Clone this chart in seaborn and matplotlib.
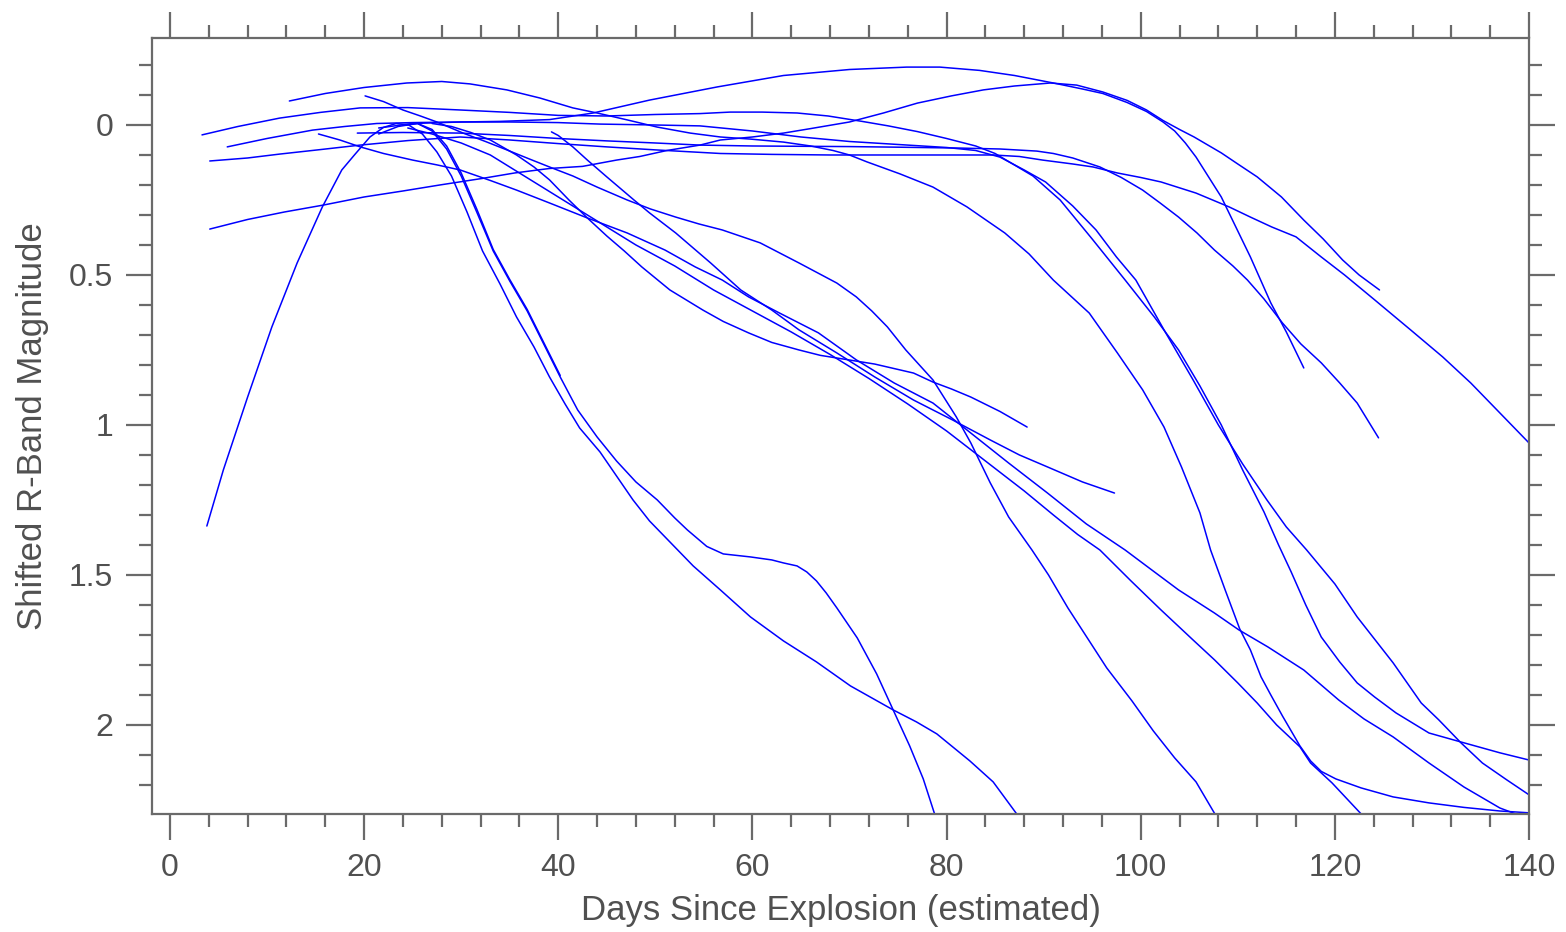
import numpy as np
import pandas as pd
import matplotlib
matplotlib.use("Agg")
import matplotlib.pyplot as plt
import seaborn as sns
from matplotlib.ticker import MultipleLocator, FuncFormatter

# ---------------- data (days since explosion, shifted R magnitude) ----------------
day_s = [3.8, 5.5, 8.0, 10.5, 13.1, 15.7, 17.7, 19.0, 20.6, 22.0, 23.3, 24.6, 26.0, 27.5, 29.0, 30.6,
         32.2, 34.0, 35.7, 37.5, 39.1, 40.7, 42.2, 44.3, 46.0, 47.7, 49.4, 51.5, 53.9, 56.7, 59.8,
         63.2, 66.6, 70.1, 74.5, 76.9, 79.0, 82.4, 84.8, 87.3]
mag_s = [1.337, 1.15, 0.907, 0.673, 0.46, 0.273, 0.15, 0.10, 0.04, 0.008, -0.005, 0.0, 0.03, 0.09, 0.17, 0.29,
         0.42, 0.53, 0.64, 0.74, 0.84, 0.93, 1.01, 1.09, 1.17, 1.25, 1.32, 1.39, 1.47, 1.55, 1.64,
         1.72, 1.79, 1.87, 1.95, 1.99, 2.03, 2.12, 2.19, 2.30]

day_p = [24.0, 25.5, 27.0, 28.5, 30.0, 31.6, 33.3, 35.0, 36.8, 38.5, 40.2, 42.0, 44.0, 46.0, 48.0, 50.2,
         52.0, 53.3, 55.3, 57.0, 59.8, 62.0, 63.2, 64.6, 65.6, 66.6, 67.6, 68.7, 70.8, 72.8, 74.5,
         76.2, 77.6, 78.8]
mag_p = [0.0, -0.005, 0.02, 0.08, 0.17, 0.29, 0.42, 0.52, 0.62, 0.73, 0.84, 0.95, 1.04, 1.12, 1.19, 1.25,
         1.31, 1.35, 1.405, 1.43, 1.44, 1.45, 1.46, 1.47, 1.49, 1.52, 1.56, 1.61, 1.71, 1.83, 1.95,
         2.07, 2.18, 2.30]

day_q = [21.5, 23.5, 25.5, 27.0, 28.5, 30.0, 31.6, 33.3, 35.0, 36.8, 38.5, 40.2]
mag_q = [0.03, 0.005, -0.005, 0.015, 0.07, 0.16, 0.28, 0.415, 0.515, 0.615, 0.725, 0.835]

day_b = [12.3, 16.0, 20.0, 24.4, 28.0, 30.9, 34.7, 38.1, 41.5, 44.0, 47.1, 50.2, 53.6, 56.7, 59.8, 63.2,
         66.0, 68.3, 70.0, 71.8, 75.2, 78.6, 82.1, 86.0, 88.5, 91.0, 94.7, 97.6, 100.2, 102.4, 104.2,
         106.1, 107.2, 108.7, 110.2, 111.3, 112.4, 113.4, 114.6, 116.4, 117.5, 118.6, 120.1, 122.7,
         126.0, 129.7, 133.3, 137.0, 140.0]
mag_b = [-0.08, -0.105, -0.125, -0.14, -0.145, -0.137, -0.117, -0.09, -0.057, -0.04, -0.017, 0.007, 0.027,
         0.04, 0.047, 0.057, 0.07, 0.085, 0.1, 0.123, 0.163, 0.207, 0.273, 0.36, 0.43, 0.517, 0.627, 0.76,
         0.883, 1.007, 1.14, 1.293, 1.417, 1.55, 1.68, 1.75, 1.84, 1.9, 1.97, 2.07, 2.12, 2.155, 2.18,
         2.21, 2.24, 2.26, 2.275, 2.287, 2.293]

day_c = [3.3, 7.0, 11.3, 15.5, 19.6, 24.5, 29.9, 35.0, 40.0, 45.0, 50.0, 54.6, 57.7, 61.0, 64.6, 67.8,
         71.3, 74.0, 77.0, 80.0, 83.0, 85.0, 88.9, 91.7, 95.0, 98.4, 101.4, 103.9, 106.1, 108.3, 110.5,
         112.7, 114.2, 115.5, 117.0, 118.6, 120.5, 122.3, 124.1, 126.3, 129.7, 133.0, 137.0, 140.0]
mag_c = [0.033, 0.005, -0.023, -0.042, -0.057, -0.058, -0.05, -0.042, -0.032, -0.03, -0.035, -0.038,
         -0.043, -0.043, -0.04, -0.03, -0.012, 0.003, 0.022, 0.045, 0.07, 0.095, 0.17, 0.25, 0.38, 0.517,
         0.64, 0.75, 0.87, 1.0, 1.15, 1.29, 1.4, 1.49, 1.6, 1.707, 1.79, 1.86, 1.907, 1.96, 2.027, 2.057,
         2.093, 2.117]

day_d = [5.9, 10.0, 14.7, 18.0, 21.3, 25.0, 29.9, 34.0, 39.1, 43.6, 49.4, 56.4, 63.2, 70.0, 75.9, 79.3,
         83.4, 87.0, 91.0, 94.0, 96.1, 98.6, 100.6, 102.3, 103.5, 104.6, 105.7, 108.3, 111.3, 113.4,
         115.0, 116.8]
mag_d = [0.073, 0.045, 0.017, 0.005, -0.005, -0.008, -0.01, -0.012, -0.018, -0.04, -0.083, -0.127, -0.165,
         -0.185, -0.193, -0.193, -0.182, -0.165, -0.14, -0.12, -0.105, -0.075, -0.045, -0.01, 0.02, 0.06,
         0.107, 0.24, 0.44, 0.593, 0.69, 0.81]

day_e = [4.1, 8.0, 11.3, 15.5, 19.6, 24.5, 29.9, 35.0, 40.0, 45.0, 50.0, 56.7, 62.0, 68.0, 75.0, 81.4,
         84.8, 87.5, 89.9, 93.0, 95.1, 97.6, 100.0, 102.1, 105.7, 109.1, 111.3, 113.5, 116.0, 118.6,
         121.0, 124.1, 127.8, 131.1, 134.0, 137.0, 140.0]
mag_e = [0.12, 0.11, 0.097, 0.082, 0.067, 0.052, 0.04, 0.05, 0.062, 0.073, 0.083, 0.095, 0.098, 0.1, 0.1,
         0.1, 0.1, 0.105, 0.117, 0.13, 0.14, 0.16, 0.175, 0.19, 0.227, 0.273, 0.307, 0.34, 0.373, 0.44,
         0.5, 0.583, 0.683, 0.773, 0.86, 0.96, 1.06]

day_f = [4.1, 8.0, 11.8, 15.8, 20.0, 24.0, 27.8, 32.2, 35.5, 39.1, 42.5, 46.0, 48.4, 51.2, 54.6, 56.7,
         60.0, 63.2, 66.0, 70.0, 73.5, 77.0, 80.5, 83.8, 87.0, 90.7, 93.4, 96.1, 98.6, 100.6, 102.3,
         104.0, 105.5, 108.3, 110.0, 112.0, 114.5, 116.8, 118.8, 120.8, 122.5, 124.6]
mag_f = [0.347, 0.315, 0.29, 0.267, 0.24, 0.22, 0.2, 0.178, 0.16, 0.145, 0.138, 0.117, 0.105, 0.085, 0.067,
         0.05, 0.04, 0.027, 0.012, -0.01, -0.04, -0.073, -0.097, -0.117, -0.13, -0.14, -0.133, -0.11,
         -0.082, -0.05, -0.015, 0.015, 0.04, 0.093, 0.13, 0.173, 0.24, 0.317, 0.38, 0.45, 0.5, 0.55]

day_g = [20.1, 22.0, 24.0, 25.8, 27.5, 30.2, 32.5, 34.7, 37.0, 39.1, 41.5, 44.0, 47.1, 49.5, 52.1, 54.5,
         56.9, 60.8, 64.8, 68.7, 70.7, 72.3, 73.9, 75.8, 78.6, 81.0, 82.5, 84.5, 86.4, 88.8, 90.5, 92.5,
         94.7, 96.5, 99.1, 101.3, 103.5, 105.7, 107.7]
mag_g = [-0.097, -0.078, -0.05, -0.03, -0.01, 0.027, 0.055, 0.083, 0.113, 0.14, 0.17, 0.207, 0.25, 0.28,
         0.307, 0.33, 0.35, 0.393, 0.46, 0.527, 0.573, 0.62, 0.673, 0.75, 0.85, 0.973, 1.06, 1.193, 1.307,
         1.417, 1.5, 1.61, 1.72, 1.81, 1.92, 2.02, 2.11, 2.19, 2.30]

day_h = [15.3, 17.5, 19.6, 22.0, 25.0, 27.5, 29.9, 33.0, 35.7, 39.1, 43.0, 47.1, 51.0, 54.1, 56.9, 59.6,
         62.8, 66.8, 70.7, 74.6, 78.6, 82.5, 86.4, 90.4, 94.4, 98.4, 101.0, 103.9, 107.6, 110.1, 113.1,
         116.8, 120.4, 123.0, 126.0, 129.7, 133.3, 137.0, 138.9]
mag_h = [0.03, 0.05, 0.073, 0.095, 0.117, 0.133, 0.15, 0.185, 0.217, 0.26, 0.31, 0.36, 0.417, 0.473, 0.517,
         0.573, 0.627, 0.693, 0.783, 0.86, 0.927, 1.027, 1.127, 1.227, 1.33, 1.417, 1.48, 1.55, 1.627,
         1.683, 1.74, 1.817, 1.917, 1.98, 2.04, 2.127, 2.207, 2.277, 2.30]

day_i = [19.3, 24.0, 29.9, 35.0, 40.0, 45.0, 50.0, 54.6, 60.0, 65.0, 70.0, 75.0, 81.4, 85.5, 89.3, 91.0,
         93.0, 95.8, 98.0, 100.2, 102.0, 103.9, 105.8, 107.6, 109.5, 111.0, 112.7, 114.6, 116.5, 118.6,
         120.5, 122.3, 124.5]
mag_i = [0.027, 0.025, 0.027, 0.035, 0.045, 0.053, 0.06, 0.067, 0.07, 0.071, 0.072, 0.074, 0.077, 0.08,
         0.087, 0.095, 0.11, 0.14, 0.175, 0.217, 0.26, 0.307, 0.36, 0.417, 0.47, 0.517, 0.58, 0.66, 0.73,
         0.793, 0.86, 0.927, 1.043]

day_j = [39.3, 40.0, 41.5, 43.0, 45.0, 47.8, 49.4, 52.1, 55.7, 58.8, 62.0, 64.8, 68.7, 72.6, 76.6, 80.6,
         84.5, 87.5, 90.4, 94.0, 97.3]
mag_j = [0.023, 0.035, 0.073, 0.117, 0.173, 0.25, 0.293, 0.36, 0.46, 0.55, 0.617, 0.683, 0.76, 0.84, 0.917,
         0.983, 1.05, 1.1, 1.14, 1.19, 1.227]

day_k = [27.0, 29.0, 31.0, 33.0, 35.7, 37.5, 39.1, 41.1, 43.0, 45.0, 46.8, 48.6, 51.5, 54.9, 57.0, 59.6,
         62.0, 64.8, 67.0, 69.9, 72.6, 76.6, 78.6, 80.5, 82.5, 85.5, 88.3]
mag_k = [-0.005, 0.005, 0.025, 0.05, 0.1, 0.14, 0.183, 0.25, 0.31, 0.37, 0.42, 0.473, 0.55, 0.617, 0.655,
         0.693, 0.725, 0.75, 0.768, 0.783, 0.797, 0.827, 0.857, 0.88, 0.907, 0.955, 1.007]

day_l = [24.5, 27.0, 30.0, 33.0, 36.0, 39.0, 42.0, 45.0, 48.0, 52.0, 56.0, 60.0, 64.0, 68.0, 72.0, 76.0,
         80.0, 84.0, 88.0, 91.0, 93.5, 95.8, 99.0, 102.1, 105.4, 107.6, 110.0, 112.0, 114.0, 116.4,
         117.5, 119.7, 122.8]
mag_l = [0.01, 0.03, 0.06, 0.1, 0.16, 0.22, 0.28, 0.34, 0.4, 0.47, 0.55, 0.62, 0.69, 0.765, 0.845, 0.93,
         1.02, 1.12, 1.22, 1.3, 1.365, 1.417, 1.52, 1.617, 1.717, 1.783, 1.86, 1.927, 2.0, 2.073, 2.127,
         2.193, 2.30]

day_v = [21.5, 25.0, 30.0, 35.0, 40.0, 44.3, 50.0, 54.6, 60.0, 65.0, 70.0, 75.0, 80.0, 83.0, 85.5, 88.0,
         90.2, 93.0, 95.4, 97.5, 99.5, 102.4, 105.4, 108.0, 110.5, 113.0, 115.0, 117.1, 120.0, 122.3,
         126.0, 128.9, 130.7, 133.0, 135.2, 137.7, 140.0]
mag_v = [0.01, -0.005, -0.01, -0.01, -0.008, -0.003, 0.0, 0.003, 0.02, 0.04, 0.055, 0.065, 0.075, 0.085,
         0.107, 0.15, 0.19, 0.27, 0.35, 0.44, 0.517, 0.683, 0.85, 1.0, 1.13, 1.25, 1.34, 1.417, 1.53, 1.64,
         1.793, 1.927, 1.983, 2.06, 2.127, 2.183, 2.233]

x_major_ticks = [0, 20, 40, 60, 80, 100, 120, 140]
y_major_ticks = [0, 0.5, 1, 1.5, 2]

curves = {
    "S": (day_s, mag_s), "P": (day_p, mag_p), "Q": (day_q, mag_q), "B": (day_b, mag_b),
    "C": (day_c, mag_c), "D": (day_d, mag_d), "E": (day_e, mag_e), "F": (day_f, mag_f),
    "G": (day_g, mag_g), "H": (day_h, mag_h), "I": (day_i, mag_i), "J": (day_j, mag_j),
    "K": (day_k, mag_k), "L": (day_l, mag_l), "V": (day_v, mag_v),
}
rows = []
for name, (dd, mm) in curves.items():
    for order, (x, y) in enumerate(zip(dd, mm)):
        rows.append({"sn": name, "order": order, "day": x, "mag": y})
df = pd.DataFrame(rows)

# ---------------- figure ----------------
sns.set_style("white")
plt.rcParams["font.family"] = ["Liberation Sans", "DejaVu Sans"]

W, H = 1566, 932
fig = plt.figure(figsize=(W / 100, H / 100), dpi=100)
ax = fig.add_axes([152 / W, 1 - 814 / H, (1529 - 152) / W, (814 - 38) / H])

sns.lineplot(data=df, x="day", y="mag", units="sn", estimator=None, sort=False,
             color="#0000ff", linewidth=1.1, ax=ax, legend=False)

ax.set_xlim(-1.85, 140)
ax.set_ylim(2.297, -0.29)

ax.set_xticks(x_major_ticks)
ax.xaxis.set_minor_locator(MultipleLocator(4))
ax.set_yticks(y_major_ticks)
ax.yaxis.set_minor_locator(MultipleLocator(0.1))
ax.yaxis.set_major_formatter(FuncFormatter(lambda v, p: f"{v:g}"))

axis_col = "#6a6a6a"
text_col = "#505050"
for sp in ax.spines.values():
    sp.set_color(axis_col)
    sp.set_linewidth(1.6)
    sp.set_visible(True)

ax.tick_params(which="major", direction="out", length=19, width=1.6, color=axis_col,
               top=True, right=True, bottom=True, left=True,
               labelsize=23, labelcolor=text_col, pad=9)
ax.tick_params(which="minor", direction="out", length=9.5, width=1.6, color=axis_col,
               top=True, right=True, bottom=True, left=True)

ax.set_xlabel("Days Since Explosion (estimated)", fontsize=25, color=text_col, labelpad=8)
ax.set_ylabel("Shifted R-Band Magnitude", fontsize=25, color=text_col, labelpad=14)
ax.grid(False)

fig.savefig("out.png", dpi=100, facecolor="white")
